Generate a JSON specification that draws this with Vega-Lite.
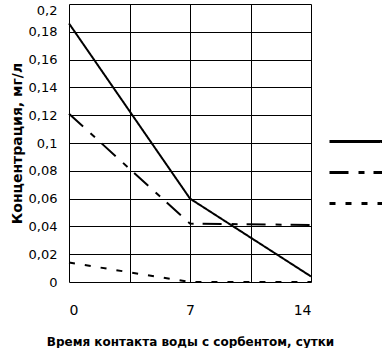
{
  "$schema": "https://vega.github.io/schema/vega-lite/v6.json",
  "width": 242,
  "height": 278,
  "autosize": {"type": "none"},
  "padding": {"left": 69, "top": 4, "right": 71, "bottom": 66},
  "background": "white",
  "config": {
    "view": {"stroke": null},
    "font": "DejaVu Sans"
  },
  "data": {
    "values": [
      {"t": 0, "c": 0.186, "s": "A"},
      {"t": 7, "c": 0.06, "s": "A"},
      {"t": 14, "c": 0.004, "s": "A"},
      {"t": 0, "c": 0.121, "s": "B"},
      {"t": 7, "c": 0.042, "s": "B"},
      {"t": 14, "c": 0.041, "s": "B"},
      {"t": 0, "c": 0.014, "s": "C"},
      {"t": 7, "c": 0.0, "s": "C"},
      {"t": 14, "c": 0.0, "s": "C"}
    ]
  },
  "mark": {"type": "line", "color": "black", "strokeWidth": 2},
  "encoding": {
    "x": {
      "field": "t", "type": "quantitative",
      "scale": {"domain": [0, 14], "nice": false},
      "axis": {
        "values": [0, 3.5, 7, 10.5, 14],
        "labelExpr": "datum.value % 7 == 0 ? datum.label : ''",
        "title": "Время контакта воды с сорбентом, сутки",
        "titleFontWeight": "bold", "titleFontSize": 12, "titleColor": "black", "titlePadding": 19,
        "labelFontSize": 14, "labelColor": "black", "labelPadding": 21,
        "ticks": false, "domain": false,
        "gridColor": "black", "gridOpacity": 1, "gridWidth": 1
      }
    },
    "y": {
      "field": "c", "type": "quantitative",
      "scale": {"domain": [0, 0.2], "nice": false},
      "axis": {
        "values": [0, 0.02, 0.04, 0.06, 0.08, 0.1, 0.12, 0.14, 0.16, 0.18, 0.2],
        "format": "~g",
        "labelExpr": "replace(datum.label, '.', ',')",
        "labelBaseline": {"condition": {"test": "datum.value >= 0.2", "value": "top"}, "value": "middle"},
        "title": "Концентрация, мг/л",
        "titleFontWeight": "bold", "titleFontSize": 14, "titleColor": "black",
        "labelFontSize": 13, "labelColor": "black", "labelPadding": 12,
        "ticks": false, "domain": false,
        "gridColor": "black", "gridOpacity": 1, "gridWidth": 1
      }
    },
    "strokeDash": {
      "field": "s", "type": "nominal",
      "scale": {"domain": ["A", "B", "C"], "range": [[1, 0], [19, 10, 6, 9], [6, 10]]},
      "legend": {
        "orient": "none", "legendX": 259, "legendY": 122,
        "title": null,
        "labelExpr": "''",
        "symbolType": "stroke",
        "symbolSize": 2809,
        "symbolStrokeWidth": 3,
        "symbolStrokeColor": "black",
        "clipHeight": 31,
        "rowPadding": 0,
        "padding": 0
      }
    }
  }
}
